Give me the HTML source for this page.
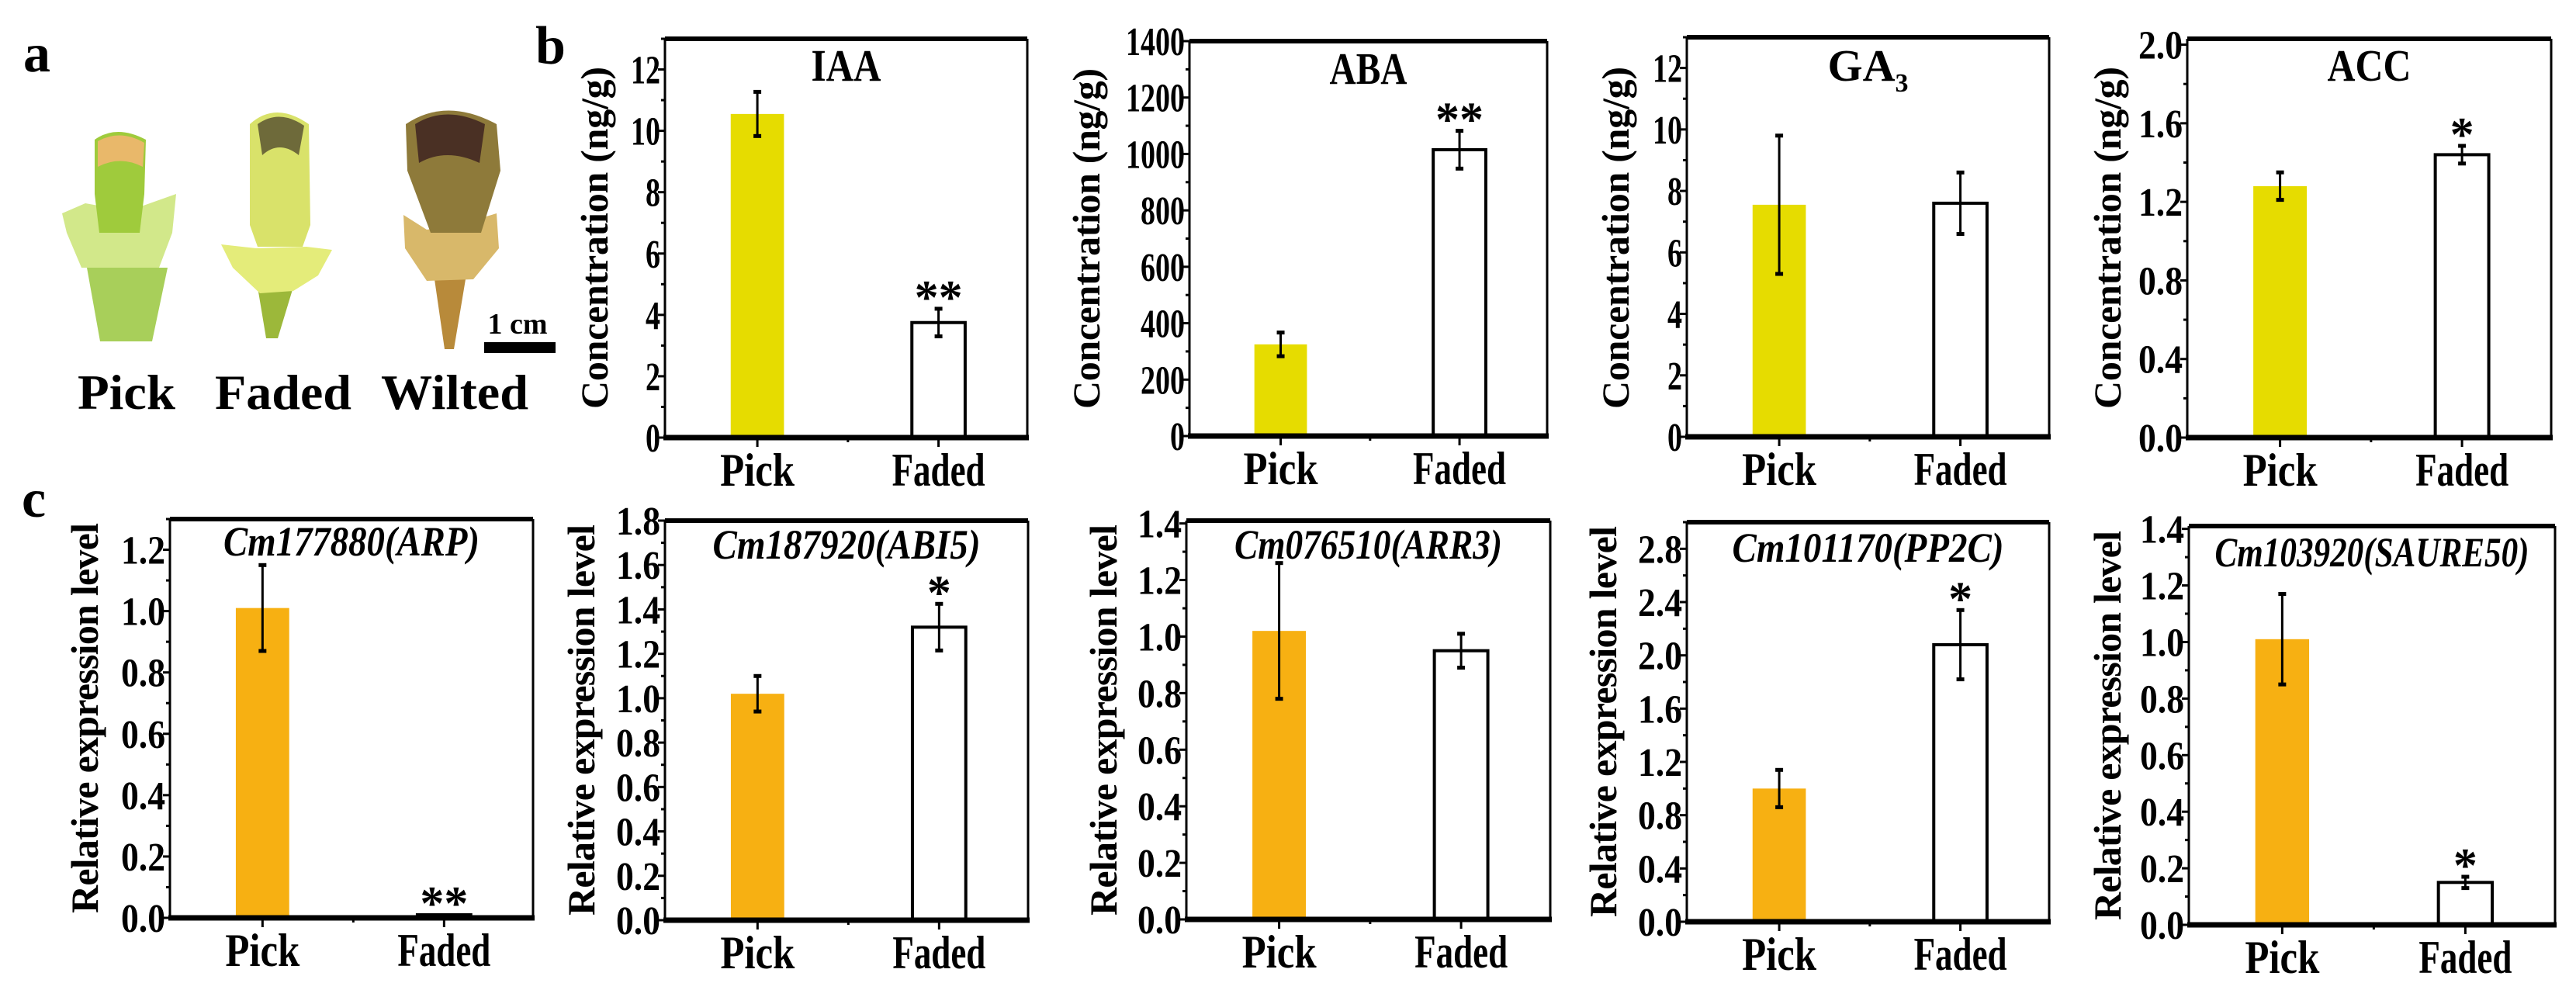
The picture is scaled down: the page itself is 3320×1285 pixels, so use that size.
<!DOCTYPE html>
<html><head><meta charset="utf-8">
<style>
html,body{margin:0;padding:0;background:#fff;}
svg{display:block;}
text{font-family:"Liberation Serif","Times New Roman",serif;font-weight:bold;fill:#000;}
</style></head>
<body>
<svg id="fig" width="3320" height="1285" viewBox="0 0 3320 1285" xmlns="http://www.w3.org/2000/svg">
<g id="panel-a">
  <text x="30" y="92" font-size="70">a</text>
  <g>
    <path d="M129,440 L112,345 L140,345 L192,345 L216,345 L196,440 Z" fill="#a8cf5a"/>
    <path d="M80,275 L110,262 L165,272 L227,250 L222,300 L205,345 L105,345 L86,300 Z" fill="#d2e88a"/>
    <path d="M122,180 Q150,160 188,180 L186,250 L180,300 L128,300 L122,250 Z" fill="#9fcb3c"/>
    <path d="M126,182 Q155,166 186,184 L184,215 Q155,200 126,215 Z" fill="#e9b86a"/>
  </g>
  <g>
    <path d="M343,436 L332,370 L378,370 L358,436 Z" fill="#9cb83a"/>
    <path d="M285,315 L330,320 L395,318 L428,322 L410,355 L378,375 L335,378 L300,345 Z" fill="#e4ec7a"/>
    <path d="M322,160 Q355,130 398,160 L400,290 L390,318 L332,318 L322,290 Z" fill="#d9e26a"/>
    <path d="M332,160 Q360,140 392,162 L385,200 Q360,180 338,200 Z" fill="#6e6a3a"/>
  </g>
  <g>
    <path d="M573,450 L560,360 L600,360 L585,450 Z" fill="#b88a3a"/>
    <path d="M520,277 L550,296 L590,290 L640,275 L643,320 L610,360 L550,362 L522,320 Z" fill="#d8b86a"/>
    <path d="M523,160 Q575,125 640,160 L645,220 L620,300 L555,300 L525,220 Z" fill="#8e7a3a"/>
    <path d="M535,160 Q575,135 625,160 L618,210 Q575,190 540,210 Z" fill="#4a3024"/>
  </g>
  <text x="667" y="430" font-size="38" text-anchor="middle">1 cm</text>
  <rect x="624" y="441" width="92" height="14" fill="#000"/>
  <text x="163" y="527" font-size="64" text-anchor="middle" textLength="126" lengthAdjust="spacingAndGlyphs">Pick</text>
  <text x="365" y="527" font-size="64" text-anchor="middle" textLength="176" lengthAdjust="spacingAndGlyphs">Faded</text>
  <text x="586" y="527" font-size="64" text-anchor="middle" textLength="190" lengthAdjust="spacingAndGlyphs">Wilted</text>
</g>
<text x="690" y="82" font-size="70">b</text>
<text x="28" y="666" font-size="70">c</text>
</svg>
<script>
// ---- data ----
const categories = ["Pick", "Faded"];
const iaaValues = [10.55, 3.75];
const iaaErrors = [0.72, 0.45];
const abaValues = [325, 1015];
const abaErrors = [42, 67];
const ga3Values = [7.55, 7.6];
const ga3Errors = [2.25, 1.0];
const accValues = [1.28, 1.44];
const accErrors = [0.07, 0.045];
const arpValues = [1.01, 0.01];
const arpErrors = [0.14, 0.0];
const abi5Values = [1.02, 1.32];
const abi5Errors = [0.08, 0.105];
const arr3Values = [1.02, 0.95];
const arr3Errors = [0.24, 0.06];
const pp2cValues = [1.0, 2.08];
const pp2cErrors = [0.14, 0.26];
const saureValues = [1.01, 0.15];
const saureErrors = [0.16, 0.02];
const iaaTicks = ["0","2","4","6","8","10","12"];
const abaTicks = ["0","200","400","600","800","1000","1200","1400"];
const ga3Ticks = ["0","2","4","6","8","10","12"];
const accTicks = ["0.0","0.4","0.8","1.2","1.6","2.0"];
const arpTicks = ["0.0","0.2","0.4","0.6","0.8","1.0","1.2"];
const abi5Ticks = ["0.0","0.2","0.4","0.6","0.8","1.0","1.2","1.4","1.6","1.8"];
const arr3Ticks = ["0.0","0.2","0.4","0.6","0.8","1.0","1.2","1.4"];
const pp2cTicks = ["0.0","0.4","0.8","1.2","1.6","2.0","2.4","2.8"];
const saureTicks = ["0.0","0.2","0.4","0.6","0.8","1.0","1.2","1.4"];
const iaaStars = ["", "**"];
const abaStars = ["", "**"];
const ga3Stars = ["", ""];
const accStars = ["", "*"];
const arpStars = ["", "**"];
const abi5Stars = ["", "*"];
const arr3Stars = ["", ""];
const pp2cStars = ["", "*"];
const saureStars = ["", "*"];

const NS = "http://www.w3.org/2000/svg";
const svg = document.getElementById("fig");
function mk(tag, attrs, parent, txt) {
  const e = document.createElementNS(NS, tag);
  for (const k in attrs) if (attrs[k] !== null) e.setAttribute(k, attrs[k]);
  if (txt !== undefined) e.textContent = txt;
  (parent || svg).appendChild(e);
  return e;
}

function drawPanel(p) {
  const g = mk("g", {});
  
  
  const W = p.right - p.left;
  const ymax = p.ymax;
  const yS = v => p.bottom - (v / ymax) * (p.bottom - p.top);
  const xC = i => p.left + W * (0.255 + 0.5 * i);
  const bw = W * 0.147;
  const step = parseFloat(p.ticks[1]);
  p.ticks.forEach((t, i) => {
    const v = parseFloat(t);
    const y = yS(v);
    const tk = mk("line", {x1: p.left - 9, x2: p.left, y1: y, y2: y, stroke: "#000", "stroke-width": 3}, g);
    
    
    const lb = mk("text", {x: p.left - 6, y: y + 18, "font-size": 52, "text-anchor": "end", textLength: t.length * 19, lengthAdjust: "spacingAndGlyphs"}, g, t);
    
    
    const mv = v + step / 2;
    if (mv <= ymax) {
      const my = yS(mv);
      const mt = mk("line", {x1: p.left - 5, x2: p.left, y1: my, y2: my, stroke: "#000", "stroke-width": 3}, g);
      
      
    }
  });
  p.values.forEach((v, i) => {
    const x = xC(i);
    const top = yS(v);
    let bar;
    if (i === 0) {
      bar = mk("rect", {x: x - bw / 2, y: top, width: bw, height: p.bottom - top, fill: p.color}, g);
    } else {
      bar = mk("rect", {x: x - bw / 2, y: top, width: bw, height: p.bottom - top, fill: "#fff", stroke: "#000", "stroke-width": 4}, g);
    }
    
    
    const e = p.errors[i];
    if (e > 0) {
      const y1 = yS(v + e), y2 = yS(v - e);
      const eb = mk("g", {}, g);
      
      
      mk("line", {x1: x, x2: x, y1: y1, y2: y2, stroke: "#000", "stroke-width": 3}, eb);
      mk("line", {x1: x - 5, x2: x + 5, y1: y1, y2: y1, stroke: "#000", "stroke-width": 5}, eb);
      mk("line", {x1: x - 5, x2: x + 5, y1: y2, y2: y2, stroke: "#000", "stroke-width": 5}, eb);
    }
    const s = p.stars[i];
    if (s) {
      const st = mk("text", {x: x, y: yS(v + e) + 6, "font-size": 62, "text-anchor": "middle"}, g, s);
      
      
    }
    const xl = mk("text", {x: x, y: p.bottom + 62, "font-size": 60, "text-anchor": "middle", textLength: categories[i].length * 24, lengthAdjust: "spacingAndGlyphs"}, g, categories[i]);
    
    
    const xt = mk("line", {x1: x, x2: x, y1: p.bottom, y2: p.bottom + 12, stroke: "#000", "stroke-width": 3}, g);
    
    
  });
  const mid = (xC(0) + xC(1)) / 2;
  mk("line", {x1: mid, x2: mid, y1: p.bottom, y2: p.bottom + 6, stroke: "#000", "stroke-width": 3}, g);
  const fr = mk("g", {}, g);
  
  
  mk("line", {x1: p.left, x2: p.right, y1: p.top, y2: p.top, stroke: "#000", "stroke-width": 6}, fr);
  mk("line", {x1: p.left, x2: p.left, y1: p.top, y2: p.bottom, stroke: "#000", "stroke-width": 3}, fr);
  mk("line", {x1: p.right, x2: p.right, y1: p.top, y2: p.bottom, stroke: "#000", "stroke-width": 3}, fr);
  mk("line", {x1: p.left - 2, x2: p.right + 2, y1: p.bottom, y2: p.bottom, stroke: "#000", "stroke-width": 7}, fr);
  const tt = mk("text", {x: (p.left + p.right) / 2, y: p.titleY, "font-size": p.italic ? 54 : 58, "text-anchor": "middle", "font-style": p.italic ? "italic" : "normal", textLength: p.sub ? null : p.titleLen, lengthAdjust: "spacingAndGlyphs"}, g);
  
  
  if (p.sub) {
    mk("tspan", {}, tt, p.title);
    mk("tspan", {"font-size": 34, dy: 14}, tt, p.sub);
  } else {
    tt.textContent = p.title;
  }
  const cy = (p.ytTop + p.ytBot) / 2;
  const yt = mk("text", {x: 0, y: 0, "font-size": 50, "text-anchor": "middle", transform: "translate(" + p.ytX + "," + cy + ") rotate(-90)", textLength: p.ytBot - p.ytTop, lengthAdjust: "spacing"}, g, p.ytitle);
  
  
}

const Y = "#e6dc00", O = "#f7b012";
const CT = "Concentration  (ng/g)", RT = "Relative expression level";
drawPanel({id:"iaa", left:857, right:1324, top:50, bottom:564, ymax:13, ticks:iaaTicks, values:iaaValues, errors:iaaErrors, stars:iaaStars, color:Y, title:"IAA", titleY:104, titleLen:90, ytitle:CT, ytX:783, ytTop:86, ytBot:527});
drawPanel({id:"aba", left:1533, right:1994, top:53, bottom:562, ymax:1400, ticks:abaTicks, values:abaValues, errors:abaErrors, stars:abaStars, color:Y, title:"ABA", titleY:108, titleLen:100, ytitle:CT, ytX:1417, ytTop:88, ytBot:527});
drawPanel({id:"ga3", left:2174, right:2641, top:48, bottom:563, ymax:13, ticks:ga3Ticks, values:ga3Values, errors:ga3Errors, stars:ga3Stars, color:Y, title:"GA", sub:"3", titleY:104, titleLen:null, ytitle:CT, ytX:2099, ytTop:86, ytBot:527});
drawPanel({id:"acc", left:2819, right:3288, top:50, bottom:564, ymax:2.03, ticks:accTicks, values:accValues, errors:accErrors, stars:accStars, color:Y, title:"ACC", titleY:104, titleLen:108, ytitle:CT, ytX:2733, ytTop:86, ytBot:527});
drawPanel({id:"arp", left:219, right:687, top:669, bottom:1183, ymax:1.3, ticks:arpTicks, values:arpValues, errors:arpErrors, stars:arpStars, color:O, title:"Cm177880(ARP)", titleY:716, titleLen:330, italic:true, ytitle:RT, ytX:126, ytTop:674, ytBot:1177});
drawPanel({id:"abi5", left:857, right:1325, top:671, bottom:1186, ymax:1.8, ticks:abi5Ticks, values:abi5Values, errors:abi5Errors, stars:abi5Stars, color:O, title:"Cm187920(ABI5)", titleY:720, titleLen:345, italic:true, ytitle:RT, ytX:766, ytTop:676, ytBot:1180});
drawPanel({id:"arr3", left:1529, right:1998, top:671, bottom:1185, ymax:1.41, ticks:arr3Ticks, values:arr3Values, errors:arr3Errors, stars:arr3Stars, color:O, title:"Cm076510(ARR3)", titleY:720, titleLen:345, italic:true, ytitle:RT, ytX:1439, ytTop:676, ytBot:1180});
drawPanel({id:"pp2c", left:2174, right:2641, top:673, bottom:1188, ymax:3.0, ticks:pp2cTicks, values:pp2cValues, errors:pp2cErrors, stars:pp2cStars, color:O, title:"Cm101170(PP2C)", titleY:724, titleLen:350, italic:true, ytitle:RT, ytX:2083, ytTop:678, ytBot:1182});
drawPanel({id:"saure", left:2821, right:3293, top:678, bottom:1192, ymax:1.41, ticks:saureTicks, values:saureValues, errors:saureErrors, stars:saureStars, color:O, title:"Cm103920(SAURE50)", titleY:730, titleLen:405, italic:true, ytitle:RT, ytX:2733, ytTop:684, ytBot:1186});
</script>
</body></html>
